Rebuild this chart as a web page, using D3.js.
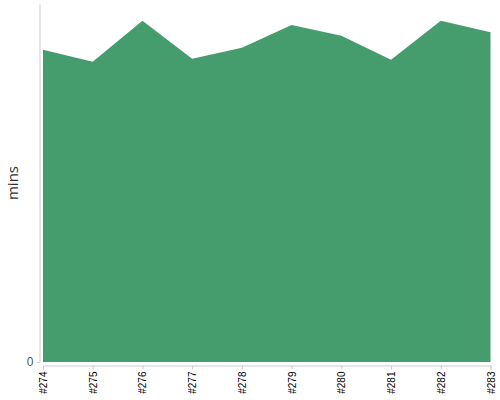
<!DOCTYPE html>
<html>
<head>
<meta charset="utf-8">
<script src="https://cdn.jsdelivr.net/npm/d3@7"></script>
<style>
  body { margin: 0; background: #fff; }
  .axis path, .axis line { stroke: #ccc; }
  .axis text { font-family: "Liberation Sans", Arial, sans-serif; }
</style>
</head>
<body>
<div id="chart"></div>
<script>
var episodes = ["#274", "#275", "#276", "#277", "#278", "#279", "#280", "#281", "#282", "#283"];
var minutes = [87.2, 83.9, 95.3, 84.7, 87.8, 94.1, 91.1, 84.4, 95.3, 92.1];
var yTicks = [0];

var width = 500, height = 400;

var svg = d3.select('#chart')
    .append('svg')
    .attr('width', width)
    .attr('height', height);

var x = d3.scalePoint()
    .domain(episodes)
    .range([43, 490.5]);

var y = d3.scaleLinear()
    .domain([0, 100])
    .range([362, 4]);

var data = episodes.map(function(e, i) { return {ep: e, val: minutes[i]}; });

var area = d3.area()
    .x(function(d) { return x(d.ep); })
    .y0(y(0))
    .y1(function(d) { return y(d.val); });

svg.append('path')
    .datum(data)
    .attr('d', area)
    .style('fill', '#459c6d');

// x axis
var xAxis = svg.append('g')
    .attr('class', 'axis')
    .attr('transform', 'translate(0,365.5)')
    .call(d3.axisBottom(x).tickSize(4).tickSizeOuter(4));

xAxis.selectAll('text')
    .attr('transform', 'rotate(-90)')
    .attr('x', -6)
    .attr('y', 0)
    .attr('dy', '0.35em')
    .style('text-anchor', 'end')
    .style('font-size', '10px')
    .style('fill', '#000');

// y axis
var yAxis = svg.append('g')
    .attr('class', 'axis')
    .attr('transform', 'translate(39.5,0)')
    .call(d3.axisLeft(y).tickValues(yTicks).tickSize(3).tickSizeOuter(0));

yAxis.selectAll('text')
    .style('font-size', '12px')
    .style('fill', '#555');

svg.append('text')
    .attr('transform', 'translate(18,183) rotate(-90)')
    .style('text-anchor', 'middle')
    .style('font-family', '"Open Sans", "DejaVu Sans", sans-serif')
    .style('font-size', '15px')
    .style('fill', '#333')
    .text('mins');
</script>
</body>
</html>
